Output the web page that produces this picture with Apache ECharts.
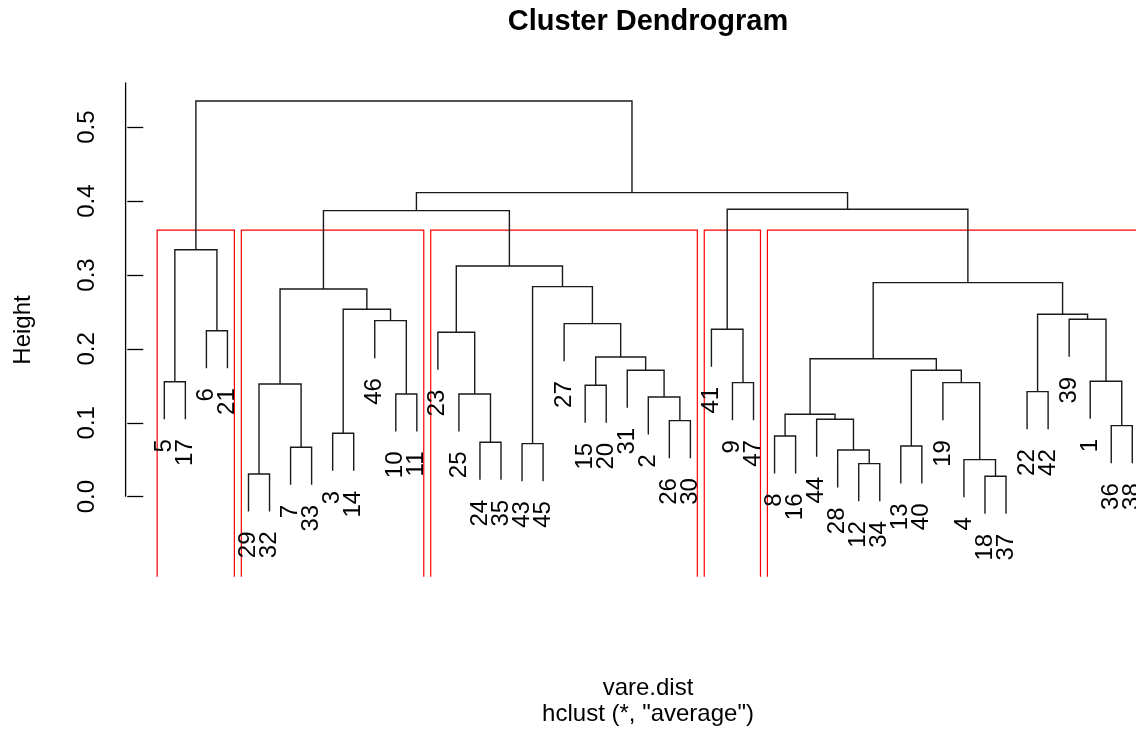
<!DOCTYPE html>
<html>
<head>
<meta charset="utf-8">
<title>Cluster Dendrogram</title>
<script src="https://cdn.jsdelivr.net/npm/echarts@6/dist/echarts.min.js"></script>
<style>
  html, body { margin: 0; padding: 0; background: #fff; }
  #main { width: 1136px; height: 732px; }
</style>
</head>
<body>
<div id="main"></div>
<script>
// leaf labels in the order they sit along the x axis
var leafOrder = [5, 17, 6, 21, 29, 32, 7, 33, 3, 14, 46, 10, 11, 23, 25, 24, 35, 43, 45, 27, 15, 20, 31, 2, 26, 30,
  41, 9, 47, 8, 16, 44, 28, 12, 34, 13, 40, 19, 4, 18, 37, 22, 42, 39, 1, 36, 38];

// hclust merge table: negative = observation, positive = earlier merge row (1-based)
var mergeLeft = [-18, -29, -12, -4, -28, -7, -13, -43, -24, -8, -3, -36, -26, -44, 10, -2, -10, -25, -22, -15, 2, -9, -19,
  -5, -1, -31, 7, 15, 20, -23, -6, -41, -27, -46, -39, 19, 11, 21, 8, 28, 30, 24, 38, 32, 43, 42];
var mergeRight = [-37, -32, -34, 1, 3, -33, -40, -45, -35, -16, -14, -38, -30, 5, 14, 13, -11, 9, -42, -20, 6, -47, 4,
  -17, 12, 16, 23, 27, 26, 18, -21, 22, 29, 17, 25, 35, 34, 37, 33, 36, 39, 31, 41, 40, 44, 45];
var mergeHeight = [0.0276, 0.0307, 0.0447, 0.0501, 0.0632, 0.0668, 0.0686, 0.0718, 0.0736, 0.0821, 0.0858, 0.0961,
  0.1029, 0.1047, 0.1115, 0.1349, 0.139, 0.139, 0.1421, 0.1507, 0.1525, 0.1543, 0.1543, 0.1556, 0.1561, 0.171, 0.171,
  0.1867, 0.189, 0.2225, 0.2246, 0.2265, 0.2341, 0.2382, 0.24, 0.2468, 0.2536, 0.2811, 0.2842, 0.2896, 0.3122, 0.3342,
  0.387, 0.3889, 0.4114, 0.5355];

var heightTicks = [0, 0.1, 0.2, 0.3, 0.4, 0.5];
var k = 5; // number of clusters boxed in red

var font = "'Liberation Sans', Arial, sans-serif";
var n = leafOrder.length;
var xMin = 1 - 0.04 * (n - 1), xMax = n + 0.04 * (n - 1);
var yMin = -0.1083, yMax = 0.5603;

// leaves hang below their merge by 10% of the height range (plot.hclust default)
var hang = 0.1 * (Math.max.apply(null, mergeHeight) - Math.min.apply(null, mergeHeight));

var leafPos = {};
leafOrder.forEach(function (lab, i) { leafPos[lab] = i + 1; });

var nodeX = [];
function childX(c) { return c < 0 ? leafPos[-c] : nodeX[c - 1]; }
function childTop(c, h) { return c < 0 ? h - hang : mergeHeight[c - 1]; }

var linkData = [];
var leafData = [];
mergeHeight.forEach(function (h, i) {
  var l = mergeLeft[i], r = mergeRight[i];
  var xl = childX(l), xr = childX(r);
  nodeX[i] = (xl + xr) / 2;
  linkData.push([xl, childTop(l, h), xr, childTop(r, h), h]);
  [l, r].forEach(function (c) {
    if (c < 0) leafData.push([leafPos[-c], h - hang, String(-c)]);
  });
});

// rect.hclust: cut between the (k-1)th and kth highest merge
var sortedH = mergeHeight.slice().sort(function (a, b) { return b - a; });
var cutH = (sortedH[k - 2] + sortedH[k - 1]) / 2;
function leavesOf(c) {
  if (c < 0) return [leafPos[-c]];
  return leavesOf(mergeLeft[c - 1]).concat(leavesOf(mergeRight[c - 1]));
}
var boxData = [];
for (var j = n - k + 1; j <= n - 1; j++) {
  [mergeLeft[j - 1], mergeRight[j - 1]].forEach(function (c) {
    if (c > 0 && c >= n - k + 1) return;
    var p = leavesOf(c);
    boxData.push([Math.min.apply(null, p) - 0.34, Math.max.apply(null, p) + 0.33, cutH]);
  });
}

var myChart = echarts.init(document.getElementById("main"));
var option = {
  backgroundColor: "#fff",
  animation: false,
  grid: { left: 125.6, top: 82.6, width: 1045.4, height: 494.1, outerBoundsMode: "none" },
  xAxis: { type: "value", min: xMin, max: xMax, show: false },
  yAxis: {
    type: "value",
    min: yMin,
    max: yMax,
    splitLine: { show: false },
    axisLine: { show: false },
    axisTick: { show: true, customValues: heightTicks, length: 16, lineStyle: { color: "#000", width: 1.3 } },
    axisLabel: {
      customValues: heightTicks,
      rotate: 90,
      margin: 26,
      fontSize: 24,
      fontFamily: font,
      color: "#000",
      formatter: function (v) { return v.toFixed(1); }
    }
  },
  graphic: [
    { type: "text", x: 648, y: 22, style: { text: "Cluster Dendrogram", font: "bold 29px " + font, fill: "#000", align: "center", verticalAlign: "middle" } },
    { type: "text", x: 648, y: 688, style: { text: "vare.dist", font: "24px " + font, fill: "#000", align: "center", verticalAlign: "middle" } },
    { type: "text", x: 648, y: 714, style: { text: 'hclust (*, "average")', font: "24px " + font, fill: "#000", align: "center", verticalAlign: "middle" } },
    { type: "text", x: 23, y: 330, rotation: Math.PI / 2, style: { text: "Height", font: "24px " + font, fill: "#000", align: "center", verticalAlign: "middle" } }
  ],
  series: [
    {
      // y axis line, from 0 up to the top of the plot region
      type: "custom",
      silent: true,
      data: [[xMin, 0, yMax]],
      renderItem: function (params, api) {
        var a = api.coord([api.value(0), api.value(1)]);
        var b = api.coord([api.value(0), api.value(2)]);
        return { type: "line", shape: { x1: a[0], y1: a[1], x2: b[0], y2: b[1] }, style: { stroke: "#000", lineWidth: 1.3 } };
      }
    },
    {
      // cluster boxes, open at the bottom edge of the plot region
      type: "custom",
      silent: true,
      data: boxData,
      renderItem: function (params, api) {
        var a = api.coord([api.value(0), yMin]);
        var b = api.coord([api.value(1), api.value(2)]);
        return {
          type: "polyline",
          shape: { points: [[a[0], a[1]], [a[0], b[1]], [b[0], b[1]], [b[0], a[1]]] },
          style: { stroke: "#ff0000", lineWidth: 1.2, fill: null }
        };
      }
    },
    {
      type: "custom",
      silent: true,
      data: linkData,
      renderItem: function (params, api) {
        var p1 = api.coord([api.value(0), api.value(1)]);
        var p2 = api.coord([api.value(0), api.value(4)]);
        var p3 = api.coord([api.value(2), api.value(4)]);
        var p4 = api.coord([api.value(2), api.value(3)]);
        return { type: "polyline", shape: { points: [p1, p2, p3, p4] }, style: { stroke: "#1a1a1a", lineWidth: 1.4, fill: null } };
      }
    },
    {
      type: "custom",
      silent: true,
      data: leafData.map(function (d) { return [d[0], d[1]]; }),
      renderItem: function (params, api) {
        var p = api.coord([api.value(0), api.value(1)]);
        return {
          type: "text",
          x: p[0],
          y: p[1] + 20,
          rotation: Math.PI / 2,
          style: { text: leafData[params.dataIndex][2], font: "24px " + font, fill: "#000", align: "right", verticalAlign: "middle" }
        };
      }
    }
  ]
};
myChart.setOption(option);
</script>
</body>
</html>
